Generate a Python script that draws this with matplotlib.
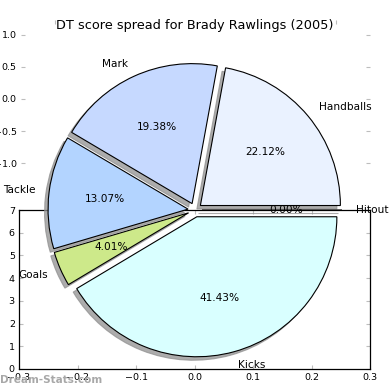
import matplotlib
matplotlib.use("Agg")
import matplotlib.pyplot as plt
import numpy as np

# ---- data ----
labels = ['Hitout', 'Handballs', 'Mark', 'Tackle', 'Goals', 'Kicks']
shares = [0.00, 22.12, 19.38, 13.07, 4.01, 41.43]
colors = ['#ffffff', '#eaf2ff', '#c6d9ff', '#b3d4ff', '#cde98a', '#d9ffff']
title = 'DT score spread for Brady Rawlings (2005)'
upper_yticks = [-1.0, -0.5, 0.0, 0.5, 1.0]
upper_xticks = [-1.0, 1.0]
lower_xticks = [-0.3, -0.2, -0.1, 0.0, 0.1, 0.2, 0.3]
lower_yticks = [0, 1, 2, 3, 4, 5, 6, 7]

W = 390.0
def box(l, t, r, b):
    return [l / W, 1 - b / W, (r - l) / W, (b - t) / W]

fig = plt.figure(figsize=(3.9, 3.9), dpi=100)
fig.patch.set_facecolor('white')

tick_grey = '#bdbdbd'

# upper (background) axes
ax_up = fig.add_axes(box(21, 20, 370, 178), zorder=0)
ax_up.set_facecolor('none')
for s in ax_up.spines.values():
    s.set_visible(False)
ax_up.set_xlim(-1.246, 1.246)
ax_up.set_ylim(-1.234, 1.234)
ax_up.set_xticks(upper_xticks)
ax_up.set_yticks(upper_yticks)
ax_up.xaxis.set_ticks_position('top')
ax_up.yaxis.set_ticks_position('both')
ax_up.tick_params(axis='both', direction='in', length=3, color=tick_grey,
                  labelsize=6.8, pad=3)
ax_up.tick_params(axis='x', labeltop=False, labelbottom=False)
ax_up.tick_params(axis='y', labelleft=True, labelright=False)

# lower axes
ax_low = fig.add_axes(box(19, 210, 370, 369), zorder=1)
ax_low.set_facecolor('none')
ax_low.set_xlim(-0.3, 0.3)
ax_low.set_ylim(0, 7)
ax_low.set_xticks(lower_xticks)
ax_low.set_yticks(lower_yticks)
for s in ax_low.spines.values():
    s.set_color('black')
    s.set_linewidth(0.9)
ax_low.xaxis.set_ticks_position('both')
ax_low.yaxis.set_ticks_position('both')
ax_low.tick_params(axis='both', direction='in', length=3, color=tick_grey,
                   labelsize=6.8, pad=3)
ax_low.tick_params(axis='x', labeltop=False, labelbottom=True)
ax_low.tick_params(axis='y', labelleft=True, labelright=False)

# pie axes
ax_pie = fig.add_axes(box(25, 40, 365, 380), zorder=2)
ax_pie.set_facecolor('none')
ax_pie.pie(shares, explode=[0.05] * len(shares), labels=labels, colors=colors,
           autopct='%1.2f%%', startangle=0,
           shadow={'ox': -0.018, 'oy': -0.018, 'facecolor': '#909090',
                   'edgecolor': '#909090', 'alpha': 0.75},
           wedgeprops={'edgecolor': 'black', 'linewidth': 0.8},
           textprops={'fontsize': 7.6, 'color': 'black'})
lim = 170.0 / 140.0
ax_pie.set_xlim(-lim, lim)
ax_pie.set_ylim(-lim, lim)
ax_pie.set_aspect('equal')
ax_pie.axis('off')

fig.text(195 / W, 1 - 26 / W, title, ha='center', va='center', fontsize=9.3)
fig.text(0.0, 1 - 380 / W, 'Dream-Stats.com', ha='left', va='center',
         fontsize=7.5, fontweight='bold', color='#a8a8a8', zorder=10)

fig.savefig('out.png', dpi=100)
